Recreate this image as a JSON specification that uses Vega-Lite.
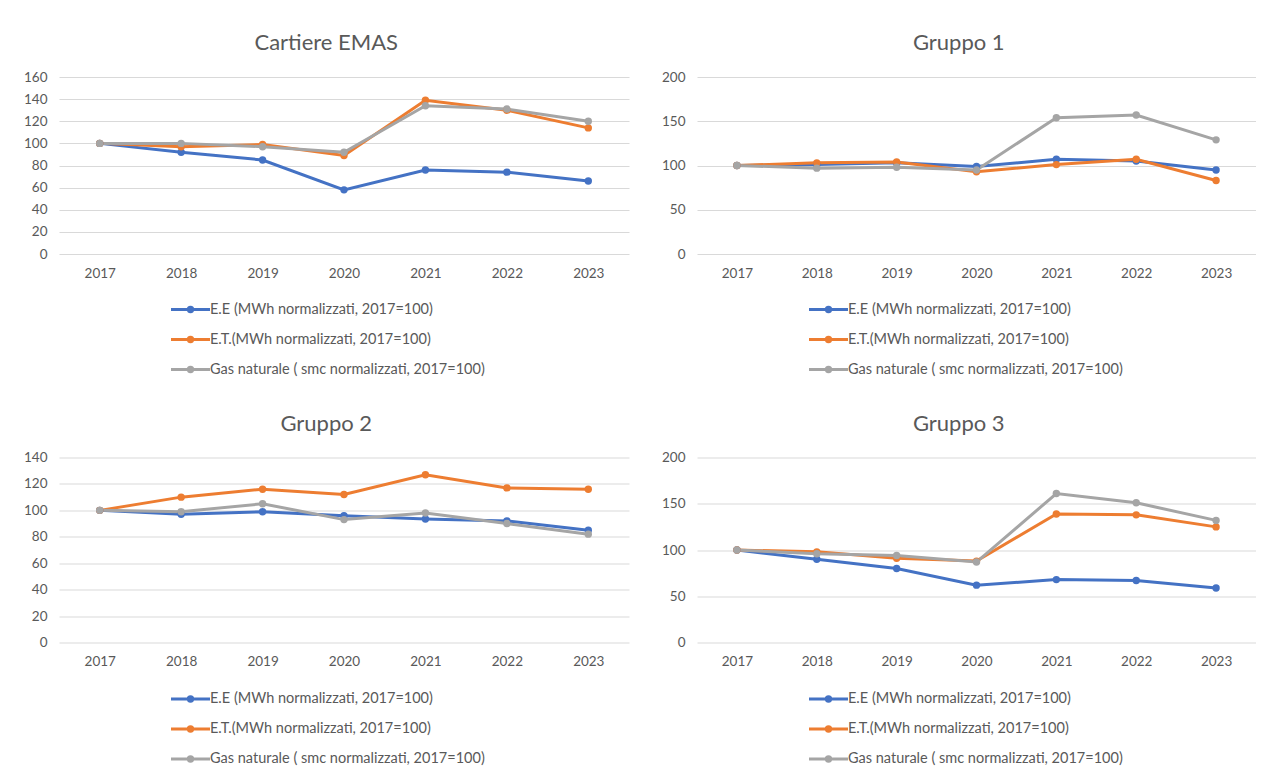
{
  "$schema": "https://vega.github.io/schema/vega-lite/v6.json",
  "background": "white",
  "padding": {"left": 23, "top": 32, "right": 0, "bottom": 0},
  "data": {"values": [
    {"panel": "Cartiere EMAS", "series": "E.E (MWh normalizzati, 2017=100)", "year": "2017", "value": 100},
    {"panel": "Cartiere EMAS", "series": "E.E (MWh normalizzati, 2017=100)", "year": "2018", "value": 92},
    {"panel": "Cartiere EMAS", "series": "E.E (MWh normalizzati, 2017=100)", "year": "2019", "value": 85},
    {"panel": "Cartiere EMAS", "series": "E.E (MWh normalizzati, 2017=100)", "year": "2020", "value": 58},
    {"panel": "Cartiere EMAS", "series": "E.E (MWh normalizzati, 2017=100)", "year": "2021", "value": 76},
    {"panel": "Cartiere EMAS", "series": "E.E (MWh normalizzati, 2017=100)", "year": "2022", "value": 74},
    {"panel": "Cartiere EMAS", "series": "E.E (MWh normalizzati, 2017=100)", "year": "2023", "value": 66},
    {"panel": "Cartiere EMAS", "series": "E.T.(MWh normalizzati, 2017=100)", "year": "2017", "value": 100},
    {"panel": "Cartiere EMAS", "series": "E.T.(MWh normalizzati, 2017=100)", "year": "2018", "value": 97},
    {"panel": "Cartiere EMAS", "series": "E.T.(MWh normalizzati, 2017=100)", "year": "2019", "value": 99},
    {"panel": "Cartiere EMAS", "series": "E.T.(MWh normalizzati, 2017=100)", "year": "2020", "value": 89},
    {"panel": "Cartiere EMAS", "series": "E.T.(MWh normalizzati, 2017=100)", "year": "2021", "value": 139},
    {"panel": "Cartiere EMAS", "series": "E.T.(MWh normalizzati, 2017=100)", "year": "2022", "value": 130},
    {"panel": "Cartiere EMAS", "series": "E.T.(MWh normalizzati, 2017=100)", "year": "2023", "value": 114},
    {"panel": "Cartiere EMAS", "series": "Gas naturale ( smc normalizzati, 2017=100)", "year": "2017", "value": 100},
    {"panel": "Cartiere EMAS", "series": "Gas naturale ( smc normalizzati, 2017=100)", "year": "2018", "value": 100},
    {"panel": "Cartiere EMAS", "series": "Gas naturale ( smc normalizzati, 2017=100)", "year": "2019", "value": 97},
    {"panel": "Cartiere EMAS", "series": "Gas naturale ( smc normalizzati, 2017=100)", "year": "2020", "value": 92},
    {"panel": "Cartiere EMAS", "series": "Gas naturale ( smc normalizzati, 2017=100)", "year": "2021", "value": 134},
    {"panel": "Cartiere EMAS", "series": "Gas naturale ( smc normalizzati, 2017=100)", "year": "2022", "value": 131},
    {"panel": "Cartiere EMAS", "series": "Gas naturale ( smc normalizzati, 2017=100)", "year": "2023", "value": 120},

    {"panel": "Gruppo 1", "series": "E.E (MWh normalizzati, 2017=100)", "year": "2017", "value": 100},
    {"panel": "Gruppo 1", "series": "E.E (MWh normalizzati, 2017=100)", "year": "2018", "value": 101},
    {"panel": "Gruppo 1", "series": "E.E (MWh normalizzati, 2017=100)", "year": "2019", "value": 103},
    {"panel": "Gruppo 1", "series": "E.E (MWh normalizzati, 2017=100)", "year": "2020", "value": 99},
    {"panel": "Gruppo 1", "series": "E.E (MWh normalizzati, 2017=100)", "year": "2021", "value": 107},
    {"panel": "Gruppo 1", "series": "E.E (MWh normalizzati, 2017=100)", "year": "2022", "value": 105},
    {"panel": "Gruppo 1", "series": "E.E (MWh normalizzati, 2017=100)", "year": "2023", "value": 95},
    {"panel": "Gruppo 1", "series": "E.T.(MWh normalizzati, 2017=100)", "year": "2017", "value": 100},
    {"panel": "Gruppo 1", "series": "E.T.(MWh normalizzati, 2017=100)", "year": "2018", "value": 103},
    {"panel": "Gruppo 1", "series": "E.T.(MWh normalizzati, 2017=100)", "year": "2019", "value": 104},
    {"panel": "Gruppo 1", "series": "E.T.(MWh normalizzati, 2017=100)", "year": "2020", "value": 93},
    {"panel": "Gruppo 1", "series": "E.T.(MWh normalizzati, 2017=100)", "year": "2021", "value": 101},
    {"panel": "Gruppo 1", "series": "E.T.(MWh normalizzati, 2017=100)", "year": "2022", "value": 107},
    {"panel": "Gruppo 1", "series": "E.T.(MWh normalizzati, 2017=100)", "year": "2023", "value": 83},
    {"panel": "Gruppo 1", "series": "Gas naturale ( smc normalizzati, 2017=100)", "year": "2017", "value": 100},
    {"panel": "Gruppo 1", "series": "Gas naturale ( smc normalizzati, 2017=100)", "year": "2018", "value": 97},
    {"panel": "Gruppo 1", "series": "Gas naturale ( smc normalizzati, 2017=100)", "year": "2019", "value": 98},
    {"panel": "Gruppo 1", "series": "Gas naturale ( smc normalizzati, 2017=100)", "year": "2020", "value": 95},
    {"panel": "Gruppo 1", "series": "Gas naturale ( smc normalizzati, 2017=100)", "year": "2021", "value": 154},
    {"panel": "Gruppo 1", "series": "Gas naturale ( smc normalizzati, 2017=100)", "year": "2022", "value": 157},
    {"panel": "Gruppo 1", "series": "Gas naturale ( smc normalizzati, 2017=100)", "year": "2023", "value": 129},

    {"panel": "Gruppo 2", "series": "E.E (MWh normalizzati, 2017=100)", "year": "2017", "value": 100},
    {"panel": "Gruppo 2", "series": "E.E (MWh normalizzati, 2017=100)", "year": "2018", "value": 97},
    {"panel": "Gruppo 2", "series": "E.E (MWh normalizzati, 2017=100)", "year": "2019", "value": 99},
    {"panel": "Gruppo 2", "series": "E.E (MWh normalizzati, 2017=100)", "year": "2020", "value": 96},
    {"panel": "Gruppo 2", "series": "E.E (MWh normalizzati, 2017=100)", "year": "2021", "value": 93.5},
    {"panel": "Gruppo 2", "series": "E.E (MWh normalizzati, 2017=100)", "year": "2022", "value": 92},
    {"panel": "Gruppo 2", "series": "E.E (MWh normalizzati, 2017=100)", "year": "2023", "value": 85},
    {"panel": "Gruppo 2", "series": "E.T.(MWh normalizzati, 2017=100)", "year": "2017", "value": 100},
    {"panel": "Gruppo 2", "series": "E.T.(MWh normalizzati, 2017=100)", "year": "2018", "value": 110},
    {"panel": "Gruppo 2", "series": "E.T.(MWh normalizzati, 2017=100)", "year": "2019", "value": 116},
    {"panel": "Gruppo 2", "series": "E.T.(MWh normalizzati, 2017=100)", "year": "2020", "value": 112},
    {"panel": "Gruppo 2", "series": "E.T.(MWh normalizzati, 2017=100)", "year": "2021", "value": 127},
    {"panel": "Gruppo 2", "series": "E.T.(MWh normalizzati, 2017=100)", "year": "2022", "value": 117},
    {"panel": "Gruppo 2", "series": "E.T.(MWh normalizzati, 2017=100)", "year": "2023", "value": 116},
    {"panel": "Gruppo 2", "series": "Gas naturale ( smc normalizzati, 2017=100)", "year": "2017", "value": 100},
    {"panel": "Gruppo 2", "series": "Gas naturale ( smc normalizzati, 2017=100)", "year": "2018", "value": 99},
    {"panel": "Gruppo 2", "series": "Gas naturale ( smc normalizzati, 2017=100)", "year": "2019", "value": 105},
    {"panel": "Gruppo 2", "series": "Gas naturale ( smc normalizzati, 2017=100)", "year": "2020", "value": 93},
    {"panel": "Gruppo 2", "series": "Gas naturale ( smc normalizzati, 2017=100)", "year": "2021", "value": 98},
    {"panel": "Gruppo 2", "series": "Gas naturale ( smc normalizzati, 2017=100)", "year": "2022", "value": 90},
    {"panel": "Gruppo 2", "series": "Gas naturale ( smc normalizzati, 2017=100)", "year": "2023", "value": 82},

    {"panel": "Gruppo 3", "series": "E.E (MWh normalizzati, 2017=100)", "year": "2017", "value": 100},
    {"panel": "Gruppo 3", "series": "E.E (MWh normalizzati, 2017=100)", "year": "2018", "value": 90},
    {"panel": "Gruppo 3", "series": "E.E (MWh normalizzati, 2017=100)", "year": "2019", "value": 80},
    {"panel": "Gruppo 3", "series": "E.E (MWh normalizzati, 2017=100)", "year": "2020", "value": 62},
    {"panel": "Gruppo 3", "series": "E.E (MWh normalizzati, 2017=100)", "year": "2021", "value": 68},
    {"panel": "Gruppo 3", "series": "E.E (MWh normalizzati, 2017=100)", "year": "2022", "value": 67},
    {"panel": "Gruppo 3", "series": "E.E (MWh normalizzati, 2017=100)", "year": "2023", "value": 59},
    {"panel": "Gruppo 3", "series": "E.T.(MWh normalizzati, 2017=100)", "year": "2017", "value": 100},
    {"panel": "Gruppo 3", "series": "E.T.(MWh normalizzati, 2017=100)", "year": "2018", "value": 98},
    {"panel": "Gruppo 3", "series": "E.T.(MWh normalizzati, 2017=100)", "year": "2019", "value": 91},
    {"panel": "Gruppo 3", "series": "E.T.(MWh normalizzati, 2017=100)", "year": "2020", "value": 88},
    {"panel": "Gruppo 3", "series": "E.T.(MWh normalizzati, 2017=100)", "year": "2021", "value": 139},
    {"panel": "Gruppo 3", "series": "E.T.(MWh normalizzati, 2017=100)", "year": "2022", "value": 138},
    {"panel": "Gruppo 3", "series": "E.T.(MWh normalizzati, 2017=100)", "year": "2023", "value": 125},
    {"panel": "Gruppo 3", "series": "Gas naturale ( smc normalizzati, 2017=100)", "year": "2017", "value": 100},
    {"panel": "Gruppo 3", "series": "Gas naturale ( smc normalizzati, 2017=100)", "year": "2018", "value": 96},
    {"panel": "Gruppo 3", "series": "Gas naturale ( smc normalizzati, 2017=100)", "year": "2019", "value": 94},
    {"panel": "Gruppo 3", "series": "Gas naturale ( smc normalizzati, 2017=100)", "year": "2020", "value": 87},
    {"panel": "Gruppo 3", "series": "Gas naturale ( smc normalizzati, 2017=100)", "year": "2021", "value": 161},
    {"panel": "Gruppo 3", "series": "Gas naturale ( smc normalizzati, 2017=100)", "year": "2022", "value": 151},
    {"panel": "Gruppo 3", "series": "Gas naturale ( smc normalizzati, 2017=100)", "year": "2023", "value": 132}
  ]},
  "columns": 2,
  "align": "each",
  "spacing": {"row": 34.5, "column": 32},
  "concat": [
    {
      "title": "Cartiere EMAS",
      "width": 570, "height": 177,
      "transform": [{"filter": "datum.panel === 'Cartiere EMAS'"}],
      "mark": {"type": "line", "strokeWidth": 3, "point": {"filled": true, "size": 55}},
      "encoding": {
        "x": {"field": "year", "type": "ordinal", "scale": {"type": "point", "padding": 0.5}},
        "y": {"field": "value", "type": "quantitative", "scale": {"domain": [0, 160]}, "axis": {"values": [0, 20, 40, 60, 80, 100, 120, 140, 160]}},
        "color": {"field": "series", "type": "nominal",
          "scale": {"domain": ["E.E (MWh normalizzati, 2017=100)", "E.T.(MWh normalizzati, 2017=100)", "Gas naturale ( smc normalizzati, 2017=100)"], "range": ["#4472C4", "#ED7D31", "#A5A5A5"]},
          "legend": {"orient": "none", "legendX": 120, "legendY": 221, "direction": "vertical", "title": null}}
      }
    },
    {
      "title": "Gruppo 1",
      "width": 559, "height": 177,
      "transform": [{"filter": "datum.panel === 'Gruppo 1'"}],
      "mark": {"type": "line", "strokeWidth": 3, "point": {"filled": true, "size": 55}},
      "encoding": {
        "x": {"field": "year", "type": "ordinal", "scale": {"type": "point", "padding": 0.5}},
        "y": {"field": "value", "type": "quantitative", "scale": {"domain": [0, 200]}, "axis": {"values": [0, 50, 100, 150, 200]}},
        "color": {"field": "series", "type": "nominal",
          "scale": {"domain": ["E.E (MWh normalizzati, 2017=100)", "E.T.(MWh normalizzati, 2017=100)", "Gas naturale ( smc normalizzati, 2017=100)"], "range": ["#4472C4", "#ED7D31", "#A5A5A5"]},
          "legend": {"orient": "none", "legendX": 120, "legendY": 221, "direction": "vertical", "title": null}}
      }
    },
    {
      "title": "Gruppo 2",
      "width": 570, "height": 185,
      "transform": [{"filter": "datum.panel === 'Gruppo 2'"}],
      "mark": {"type": "line", "strokeWidth": 3, "point": {"filled": true, "size": 55}},
      "encoding": {
        "x": {"field": "year", "type": "ordinal", "scale": {"type": "point", "padding": 0.5}},
        "y": {"field": "value", "type": "quantitative", "scale": {"domain": [0, 140]}, "axis": {"values": [0, 20, 40, 60, 80, 100, 120, 140]}},
        "color": {"field": "series", "type": "nominal",
          "scale": {"domain": ["E.E (MWh normalizzati, 2017=100)", "E.T.(MWh normalizzati, 2017=100)", "Gas naturale ( smc normalizzati, 2017=100)"], "range": ["#4472C4", "#ED7D31", "#A5A5A5"]},
          "legend": {"orient": "none", "legendX": 120, "legendY": 230, "direction": "vertical", "title": null}}
      }
    },
    {
      "title": "Gruppo 3",
      "width": 559, "height": 185,
      "transform": [{"filter": "datum.panel === 'Gruppo 3'"}],
      "mark": {"type": "line", "strokeWidth": 3, "point": {"filled": true, "size": 55}},
      "encoding": {
        "x": {"field": "year", "type": "ordinal", "scale": {"type": "point", "padding": 0.5}},
        "y": {"field": "value", "type": "quantitative", "scale": {"domain": [0, 200]}, "axis": {"values": [0, 50, 100, 150, 200]}},
        "color": {"field": "series", "type": "nominal",
          "scale": {"domain": ["E.E (MWh normalizzati, 2017=100)", "E.T.(MWh normalizzati, 2017=100)", "Gas naturale ( smc normalizzati, 2017=100)"], "range": ["#4472C4", "#ED7D31", "#A5A5A5"]},
          "legend": {"orient": "none", "legendX": 120, "legendY": 230, "direction": "vertical", "title": null}}
      }
    }
  ],
  "resolve": {"scale": {"color": "independent"}, "legend": {"color": "independent"}},
  "config": {
    "view": {"stroke": null},
    "font": "Lato",
    "title": {"font": "Lato", "fontSize": 22, "fontWeight": "normal", "color": "#595959", "anchor": "middle", "frame": "bounds", "offset": 15},
    "axis": {"labelFont": "Lato", "labelFontSize": 13.5, "labelColor": "#595959", "ticks": false, "domain": false, "title": null, "gridColor": "#D9D9D9", "gridWidth": 1},
    "axisX": {"grid": false, "labelAngle": 0, "labelPadding": 12},
    "axisY": {"labelPadding": 12},
    "legend": {
      "symbolType": "M-1.95,0L1.95,0M-0.22,0A0.22,0.22 0 1,0 0.22,0A0.22,0.22 0 1,0 -0.22,0M-0.08,0A0.08,0.08 0 1,0 0.08,0A0.08,0.08 0 1,0 -0.08,0",
      "symbolSize": 400,
      "symbolStrokeWidth": 3,
      "labelFont": "Lato",
      "labelFontSize": 14.5,
      "labelColor": "#595959",
      "labelLimit": 0,
      "labelOffset": 8,
      "rowPadding": 10,
      "padding": 0
    }
  }
}
